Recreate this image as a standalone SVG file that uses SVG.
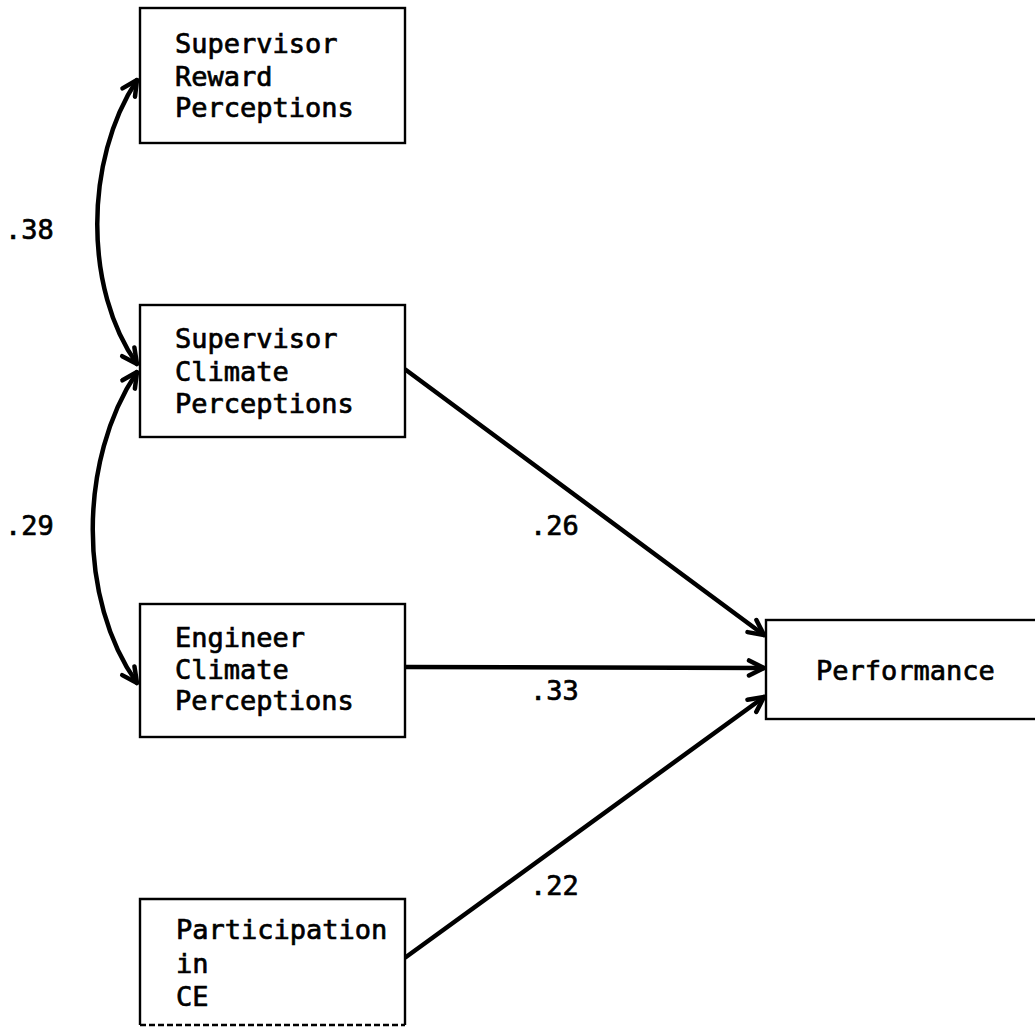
<svg xmlns="http://www.w3.org/2000/svg" width="1035" height="1029" viewBox="0 0 1035 1029">
<style>
.box{fill:#fff;stroke:#000;stroke-width:2.4}
.t{font-family:"DejaVu Sans Mono","Liberation Mono",monospace;font-size:27px;fill:#000;stroke:#000;stroke-width:0.7}
.c{fill:none;stroke:#000;stroke-width:4.5;stroke-linecap:round}
</style>
<defs>
<marker id="ah" viewBox="0 0 20 20" refX="18" refY="10" markerWidth="20" markerHeight="20" markerUnits="userSpaceOnUse" orient="auto-start-reverse">
<path d="M3,2.5 L18,10 L3,17.5" fill="none" stroke="#000" stroke-width="4.5" stroke-linecap="round" stroke-linejoin="round"/>
</marker>
</defs>
<rect width="1035" height="1029" fill="#fff"/>
<g id="connectors">
<path class="c" d="M137,80 C84,160 84,290 137,364" marker-start="url(#ah)" marker-end="url(#ah)"/>
<path class="c" d="M137,372 C78,460 78,600 137,683" marker-start="url(#ah)" marker-end="url(#ah)"/>
<path class="c" d="M406,370 L764,635" marker-end="url(#ah)"/>
<path class="c" d="M406,667 L764,668" marker-end="url(#ah)"/>
<path class="c" d="M406,957 L764,697" marker-end="url(#ah)"/>
</g>
<g id="n1"><rect class="box" x="140" y="8" width="265" height="135"/>
<text class="t" x="175" y="53">Supervisor</text><text class="t" x="175" y="86">Reward</text><text class="t" x="175" y="117">Perceptions</text></g>
<g id="n2"><rect class="box" x="140" y="305" width="265" height="132"/>
<text class="t" x="175" y="348">Supervisor</text><text class="t" x="175" y="381">Climate</text><text class="t" x="175" y="413">Perceptions</text></g>
<g id="n3"><rect class="box" x="140" y="604" width="265" height="133"/>
<text class="t" x="175" y="647">Engineer</text><text class="t" x="175" y="679">Climate</text><text class="t" x="175" y="710">Perceptions</text></g>
<g id="n4"><path class="box" d="M140,1025 L140,899 L405,899 L405,1025"/><line x1="140" y1="1025" x2="405" y2="1025" stroke="#000" stroke-width="2.4" stroke-dasharray="6,3"/>
<text class="t" x="176" y="939">Participation</text><text class="t" x="176" y="973">in</text><text class="t" x="176" y="1006">CE</text></g>
<g id="n5"><rect class="box" x="766" y="620" width="280" height="99"/>
<text class="t" x="816" y="680">Performance</text></g>
<g id="labels">
<text class="t" x="5" y="239">.38</text>
<text class="t" x="5" y="535">.29</text>
<text class="t" x="530" y="535">.26</text>
<text class="t" x="530" y="700">.33</text>
<text class="t" x="530" y="895">.22</text>
</g>
</svg>
